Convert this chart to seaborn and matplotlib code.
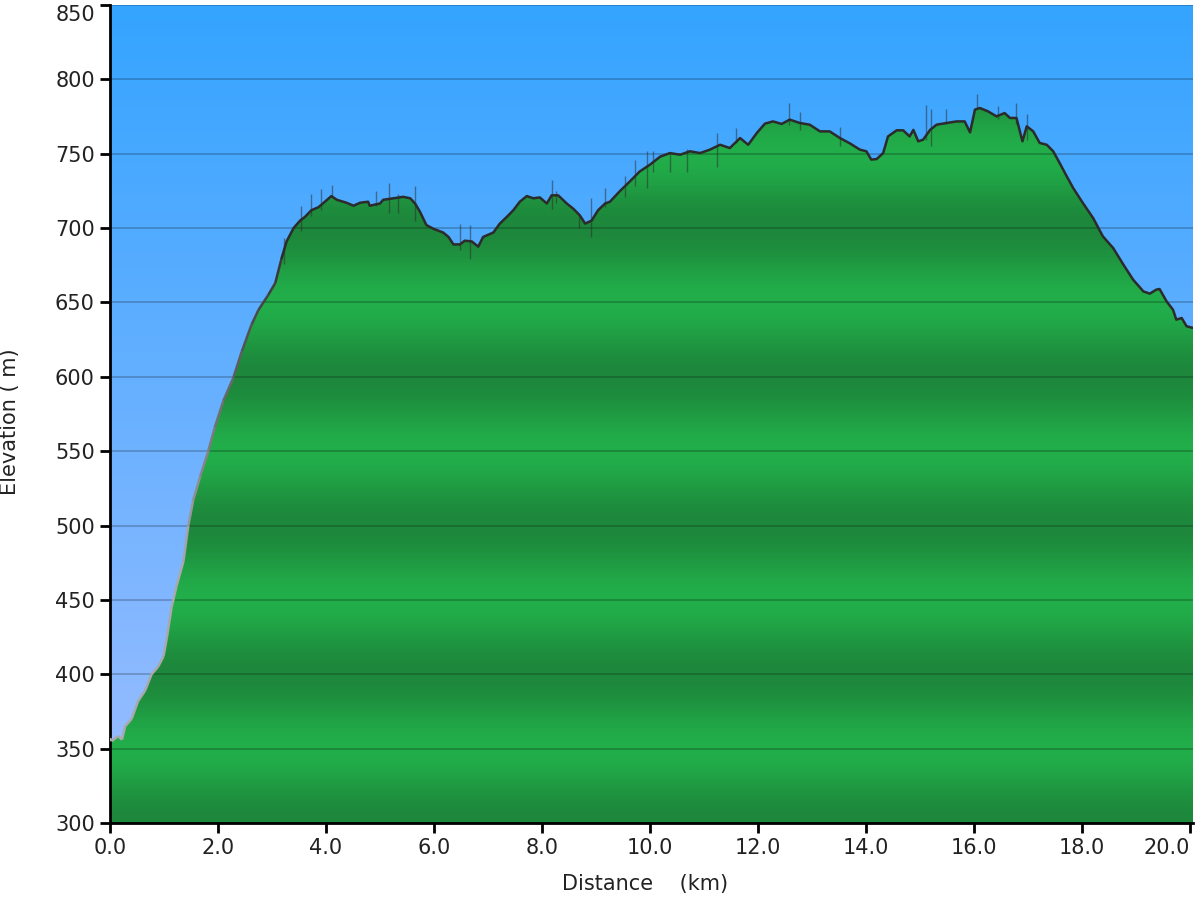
import numpy as np
import matplotlib
matplotlib.use("Agg")
import matplotlib.pyplot as plt
from matplotlib.collections import LineCollection
from matplotlib.colors import to_rgb
from matplotlib.patches import PathPatch
import seaborn as sns

# elevation profile (km, m)
distance_km = [
    0.00, 0.03, 0.15, 0.22, 0.28, 0.40, 0.52, 0.65, 0.77, 0.89, 0.99, 1.05,
    1.14, 1.23, 1.36, 1.45, 1.54, 1.67, 1.82, 1.94, 2.10, 2.28, 2.44, 2.62,
    2.75, 2.93, 3.06, 3.18, 3.27, 3.40, 3.52, 3.61, 3.73, 3.86, 3.98, 4.10,
    4.20, 4.38, 4.51, 4.63, 4.78, 4.81, 5.00, 5.06, 5.25, 5.43, 5.56, 5.65,
    5.74, 5.86, 5.99, 6.17, 6.27, 6.36, 6.48, 6.57, 6.70, 6.82, 6.91, 7.10,
    7.22, 7.38, 7.47, 7.59, 7.72, 7.84, 7.96, 8.09, 8.18, 8.30, 8.46, 8.58,
    8.70, 8.80, 8.92, 9.04, 9.17, 9.26, 9.44, 9.63, 9.81, 10.00, 10.19, 10.37,
    10.56, 10.74, 10.93, 11.11, 11.30, 11.48, 11.67, 11.82, 11.98, 12.13, 12.28,
    12.44, 12.59, 12.78, 12.96, 13.15, 13.33, 13.52, 13.70, 13.89, 14.01, 14.10,
    14.20, 14.32, 14.41, 14.57, 14.69, 14.81, 14.88, 14.97, 15.06, 15.19, 15.31,
    15.49, 15.68, 15.83, 15.93, 16.02, 16.11, 16.26, 16.42, 16.57, 16.67, 16.79,
    16.90, 16.98, 17.10, 17.22, 17.35, 17.47, 17.59, 17.72, 17.84, 18.02, 18.21,
    18.39, 18.58, 18.77, 18.95, 19.14, 19.26, 19.38, 19.44, 19.57, 19.69, 19.75,
    19.85, 19.94, 20.06,
]
elevation_m = [
    357, 355, 358.5, 356, 365, 370, 382, 389, 400, 405, 412, 424,
    445, 459, 476, 500, 517, 533, 550, 566, 584, 599, 617, 635,
    645, 655, 663, 680, 691, 700, 705, 707.5, 712, 714, 717.7, 721.5,
    719, 717, 715, 717, 717.7, 715, 716.5, 719, 720, 721, 720, 716.5,
    711, 702, 699.5, 697, 694, 689, 689, 691.5, 691, 687.5, 694, 697,
    703, 708.6, 712, 717.7, 721.5, 720, 720.6, 716.5, 722, 722, 716.5, 713,
    708.6, 703, 705, 712, 716.5, 717.7, 724.7, 731.4, 738, 742.6, 748, 750.4,
    749.3, 751.6, 750.4, 752.7, 756, 753.8, 760.5, 756, 763.9, 770.2, 771.7,
    770, 772.9, 770.6, 769.5, 765, 765, 760.5, 757, 752.7, 751.6, 746,
    746.4, 750.4, 761.6, 765.7, 765.7, 761.6, 766, 758.3, 759.4, 766, 769.5,
    770.6, 771.7, 771.7, 764.3, 779.6, 780.7, 778.5, 775.1, 777.3, 774, 774,
    758.3, 768.4, 765, 757.2, 756, 751.6, 743.7, 734.8, 726.9, 716.8, 706.7,
    694.4, 686.6, 675.4, 665.3, 657.4, 655.9, 658.6, 659, 650.7, 645, 638.4,
    639.5, 634, 632.8,
]

# thin noise spikes of the raw track
spike_km = [3.22, 3.53, 3.73, 3.90, 4.12, 4.92, 5.17, 5.34, 5.64, 6.49, 6.67,
            8.18, 8.26, 8.69, 8.90, 9.17, 9.54, 9.72, 9.94, 10.06, 10.37, 10.68,
            11.25, 11.59, 12.58, 12.78, 13.52, 15.12, 15.21, 15.49, 16.05, 16.45,
            16.78, 16.98]
spike_low = [676, 698, 708, 712, 721, 715, 710, 710, 705, 685, 679,
             713, 717, 700, 694, 714, 721, 728, 727, 738, 738, 738,
             741, 757, 769, 766, 755, 759, 755, 770, 780, 773,
             770, 759]
spike_high = [693, 715, 723, 726, 729, 725, 730, 723, 728, 703, 702,
              732, 725, 709, 720, 727, 735, 746, 752, 752, 750, 753,
              764, 767, 784, 778, 768, 783, 780, 780, 790, 782,
              784, 777]

x_ticks = [0, 2, 4, 6, 8, 10, 12, 14, 16, 18, 20]
y_ticks = [300, 350, 400, 450, 500, 550, 600, 650, 700, 750, 800, 850]


def main():
    sns.set_theme(style="ticks")
    plt.rcParams['font.family'] = ['DejaVu Sans']

    fig = plt.figure(figsize=(12, 9), dpi=100)
    ax = fig.add_axes([0.0917, 0.0856, 0.9025, 0.9089])
    x0, x1, y0, y1 = 0, 20.06, 300, 850
    extent = [x0, x1, y0, y1]

    # sky gradient behind everything
    top = np.array(to_rgb('#34a4ff'))
    bot = np.array(to_rgb('#9ebeff'))
    t = np.linspace(0, 1, 256)[:, None]
    sky = top + (bot - top) * t
    ax.imshow(sky[:, None, :], extent=extent, aspect='auto', origin='upper',
              interpolation='bilinear', zorder=0)

    # green banded terrain, clipped to the profile
    elev_rows = np.linspace(y1, y0, 1100)
    band = 0.5 * (1 - np.cos(2 * np.pi * (elev_rows - 300) / 100))
    light = np.array(to_rgb('#22ae4a'))
    dark = np.array(to_rgb('#1d873b'))
    green = dark + (light - dark) * band[:, None]
    fill = ax.fill_between(distance_km, elevation_m, y0,
                           facecolor='none', edgecolor='none')
    patch = PathPatch(fill.get_paths()[0], transform=ax.transData,
                      facecolor='none', edgecolor='none')
    ax.add_patch(patch)
    im = ax.imshow(green[:, None, :], extent=extent, aspect='auto',
                   origin='upper', interpolation='bilinear', zorder=1)
    im.set_clip_path(patch)

    ax.vlines(spike_km, spike_low, spike_high, colors='#2b2b2b',
              alpha=0.5, lw=1, zorder=3)

    # outline: grey on the steep climb, dark on the upland
    split = 27
    xs = np.array(distance_km[:split + 1])
    ys = np.array(elevation_m[:split + 1])
    segs = np.stack([np.column_stack([xs[:-1], ys[:-1]]),
                     np.column_stack([xs[1:], ys[1:]])], axis=1)
    mid = (ys[:-1] + ys[1:]) / 2
    k = np.clip((mid - 480) / (690 - 480), 0, 1)[:, None]
    grey = np.array(to_rgb('#a9a9ad'))
    ink = np.array(to_rgb('#2e2e2e'))
    ax.add_collection(LineCollection(segs, colors=grey + (ink - grey) * k,
                                     linewidths=1.8, zorder=4))
    sns.lineplot(x=distance_km[split:], y=elevation_m[split:], ax=ax,
                 color='#2b2b2b', lw=1.8, zorder=4)

    ax.set_xlim(x0, x1)
    ax.set_ylim(y0, y1)
    ax.yaxis.grid(True, color='black', alpha=0.22, lw=1.3)
    ax.xaxis.grid(False)
    ax.set_axisbelow(False)

    ax.spines[['top', 'right']].set_visible(False)
    for s in ['left', 'bottom']:
        ax.spines[s].set_linewidth(2)
        ax.spines[s].set_color('black')
    ax.tick_params(direction='out', length=7, width=2, color='black',
                   labelsize=15, labelcolor='#222222', pad=4)

    ax.set_xticks(x_ticks)
    ax.set_xticklabels([f"{v:.1f}" for v in x_ticks])
    ax.get_xticklabels()[-1].set_ha('right')
    ax.set_yticks(y_ticks)
    ax.set_yticklabels([str(v) for v in y_ticks])
    ax.get_yticklabels()[-1].set_va('top')

    ax.set_xlabel("Distance    (km)", fontsize=15, color='#222222')
    ax.set_ylabel("Elevation ( m)", fontsize=15, color='#222222')
    ax.xaxis.set_label_coords(0.494, -0.063)
    ax.yaxis.set_label_coords(-0.083, 0.491)

    fig.savefig('out.png', dpi=100, facecolor='white')
    plt.close(fig)


if __name__ == "__main__":
    main()
